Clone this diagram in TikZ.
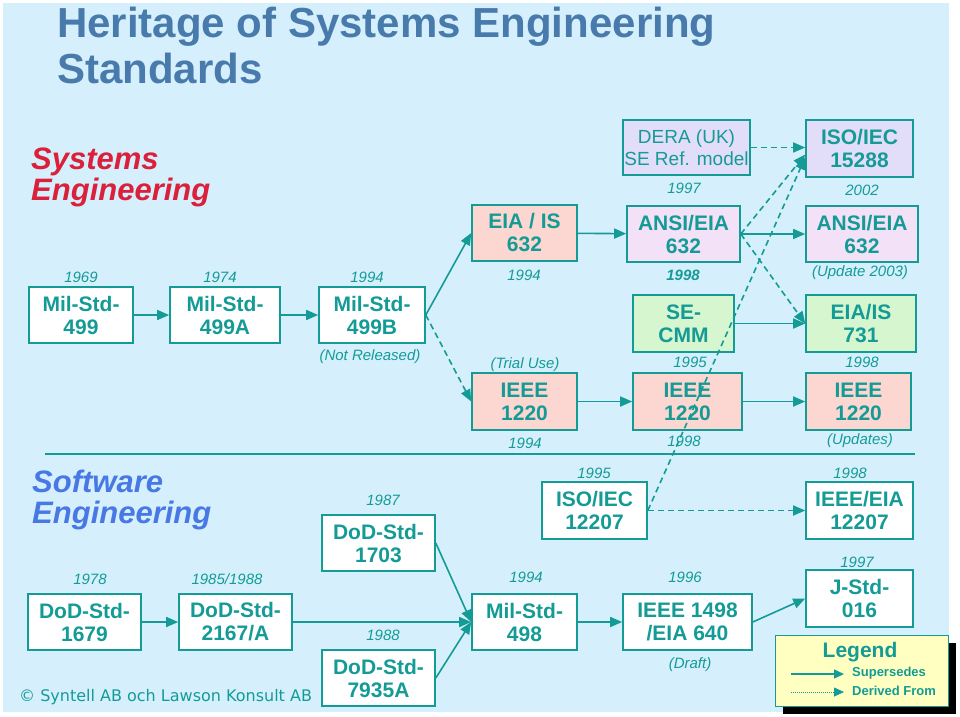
\documentclass[tikz,border=0pt]{standalone}
\usepackage{fontspec}
\setmainfont{Liberation Sans}
\setsansfont{Liberation Sans}
\newfontfamily\dejavu{DejaVu Sans}
\usetikzlibrary{arrows.meta,shadows}
\definecolor{tl}{RGB}{20,155,150}
\definecolor{bgc}{RGB}{213,240,252}
\definecolor{ttl}{RGB}{72,122,172}
\definecolor{sered}{RGB}{218,32,58}
\definecolor{swblue}{RGB}{72,120,228}
\definecolor{pinkf}{RGB}{252,214,208}
\definecolor{lavf}{RGB}{243,225,248}
\definecolor{bluelav}{RGB}{226,222,250}
\definecolor{greenf}{RGB}{214,246,208}
\definecolor{legf}{RGB}{255,255,194}
\begin{document}
\begin{tikzpicture}[x=1pt,y=-1pt,
 box/.style={draw=tl, line width=1.6pt, fill=white, text=tl, align=center, inner sep=0pt, minimum height=56, font=\fontsize{21}{23}\selectfont\bfseries},
 yr/.style={text=tl, inner sep=0pt, font=\fontsize{15}{17}\selectfont\itshape},
 byr/.style={yr, font=\fontsize{15}{17}\selectfont\bfseries\itshape},
 sup/.style={draw=tl, line width=1.6pt, -{Triangle[length=12pt,width=10pt]}},
 der/.style={sup, dash pattern=on 6pt off 4pt},
 heading/.style={anchor=base west, inner sep=0pt, font=\fontsize{31}{33}\selectfont\bfseries\itshape},
]
\useasboundingbox (0,0) rectangle (960,716);
\fill[white] (0,0) rectangle (960,716);
\fill[bgc] (3,3) rectangle (949,712);

% titles
\node[anchor=base west, inner sep=0pt, text=ttl, font=\fontsize{42}{46}\selectfont\bfseries] (t1) at (57,37) {Heritage of Systems Engineering};
\node[anchor=base west, inner sep=0pt, text=ttl, font=\fontsize{42}{46}\selectfont\bfseries] (t2) at (57,83) {Standards};
\node[heading, text=sered] (se1) at (31,169) {Systems};
\node[heading, text=sered] (se2) at (31,200) {Engineering};
\node[heading, text=swblue] (sw1) at (32,492) {Software};
\node[heading, text=swblue] (sw2) at (32,523) {Engineering};

% separator
\draw[tl, line width=2.5pt] (45,454) -- (915,454);

% systems engineering boxes
\node[box, minimum width=104] (m499) at (81,315) {Mil-Std-\\499};
\node[box, minimum width=110] (m499a) at (225,315) {Mil-Std-\\499A};
\node[box, minimum width=106] (m499b) at (372,315) {Mil-Std-\\499B};
\node[box, fill=pinkf, minimum width=105] (eia632) at (524.5,233) {EIA / IS\\632};
\node[box, fill=lavf, minimum width=113] (ansi632) at (683.5,234) {ANSI/EIA\\632};
\node[box, fill=bluelav, minimum width=127, minimum height=55, font=\fontsize{19}{22}\selectfont] (dera) at (686.5,147.5) {DERA (UK)\\SE Ref. model};
\node[box, fill=bluelav, minimum width=107, minimum height=57] (iso15288) at (859.5,148.5) {ISO/IEC\\15288};
\node[box, fill=lavf, minimum width=112] (ansi632b) at (862,234) {ANSI/EIA\\632};
\node[box, fill=greenf, minimum width=101, minimum height=57] (secmm) at (683.5,323.5) {SE-\\CMM};
\node[box, fill=greenf, minimum width=110, minimum height=57] (eia731) at (861,323.5) {EIA/IS\\731};
\node[box, fill=pinkf, minimum width=105, minimum height=57] (ieee1) at (524.5,401.5) {IEEE\\1220};
\node[box, fill=pinkf, minimum width=109, minimum height=57] (ieee2) at (687.5,401.5) {IEEE\\1220};
\node[box, fill=pinkf, minimum width=105, minimum height=57] (ieee3) at (858.5,401.5) {IEEE\\1220};

% software engineering boxes
\node[box, minimum width=113] (dod1679) at (84.5,622) {DoD-Std-\\1679};
\node[box, minimum width=113] (dod2167) at (235.5,622) {DoD-Std-\\2167/A};
\node[box, minimum width=113] (dod1703) at (378.5,543) {DoD-Std-\\1703};
\node[box, minimum width=113] (dod7935) at (378.5,678) {DoD-Std-\\7935A};
\node[box, minimum width=105] (mil498) at (524.5,622) {Mil-Std-\\498};
\node[box, minimum width=105, minimum height=57] (iso12207) at (594.5,510.5) {ISO/IEC\\12207};
\node[box, minimum width=129] (ieee1498) at (687.5,622) {IEEE 1498\\/EIA 640};
\node[box, minimum width=107, minimum height=57] (ieee12207) at (859.5,510.5) {IEEE/EIA\\12207};
\node[box, minimum width=107, minimum height=57] (jstd) at (859.5,598.5) {J-Std-\\016};

% years / notes
\node[yr] (y1) at (81,277) {1969};
\node[yr] (y2) at (220,277) {1974};
\node[yr] (y3) at (367,277) {1994};
\node[yr] (n1) at (370,357) {(Not Released)};
\node[yr] (y4) at (524,275) {1994};
\node[yr] (y5) at (684,188) {1997};
\node[byr] (y6) at (683,275) {1998};
\node[yr] (y7) at (862,190) {2002};
\node[yr] (n2) at (860,273) {(Update 2003)};
\node[yr] (n3) at (525,365) {(Trial Use)};
\node[yr] (y8) at (690,362) {1995};
\node[yr] (y9) at (862,362) {1998};
\node[yr] (y10) at (525,443) {1994};
\node[yr] (y11) at (684,441) {1998};
\node[yr] (n4) at (860,441) {(Updates)};
\node[yr] (y12) at (594,473) {1995};
\node[yr] (y13) at (850,473) {1998};
\node[yr] (y14) at (526,577) {1994};
\node[yr] (y15) at (685,577) {1996};
\node[yr] (n5) at (690,665) {(Draft)};
\node[yr] (y16) at (857,562) {1997};
\node[yr] (y17) at (383,500) {1987};
\node[yr] (y18) at (90,579) {1978};
\node[yr] (y19) at (227,579) {1985/1988};
\node[yr] (y20) at (383,635) {1988};

% copyright
\node[anchor=west, inner sep=0pt, text=tl, font=\fontsize{16}{18}\selectfont\dejavu] (copy) at (19,697) {© Syntell AB och Lawson Konsult AB};

% connectors: supersedes
\draw[sup] (m499) -- (m499a);
\draw[sup] (m499a) -- (m499b);
\draw[sup] (m499b.east) -- (eia632.west);
\draw[sup] (eia632) -- (ansi632);
\draw[sup] (ansi632) -- (ansi632b);
\draw[sup] (secmm) -- (eia731);
\draw[sup] (ieee1) -- (ieee2);
\draw[sup] (ieee2) -- (ieee3);
\draw[sup] (dod1679) -- (dod2167);
\draw[sup] (dod2167) -- (mil498);
\draw[sup] (dod1703.east) -- (mil498.west);
\draw[sup] (dod7935.east) -- (mil498.west);
\draw[sup] (mil498) -- (ieee1498);
\draw[sup] (ieee1498.east) -- (jstd.west);

% connectors: derived from
\draw[der] (m499b.east) -- (ieee1.west);
\draw[der] (dera.east) -- (dera.east -| iso15288.west);
\draw[der] (ansi632.east) -- ([yshift=-6pt]iso15288.west);
\draw[der] (ansi632.east) -- (eia731.west);
\draw[der] (iso12207.east) -- ([yshift=-9pt]iso15288.west);
\draw[der] (iso12207.east) -- (ieee12207.west);

% legend
\node[draw=tl, line width=1pt, fill=legf, minimum width=173, minimum height=71, inner sep=0pt,
      general shadow={fill=black, shadow xshift=8pt, shadow yshift=-8pt}] (legend) at (861.5,670.5) {};
\node[text=tl, inner sep=0pt, font=\fontsize{21}{23}\selectfont\bfseries] (legt) at (860,652) {Legend};
\coordinate (la1) at (791,674);
\coordinate (lb1) at (844,674);
\coordinate (la2) at (791,692);
\coordinate (lb2) at (844,692);
\draw[sup, line width=1.4pt, -{Triangle[length=10pt,width=9pt]}] (la1) -- (lb1);
\draw[draw=tl, line width=0.8pt, dash pattern=on 1pt off 1pt, -{Triangle[length=10pt,width=9pt]}] (la2) -- (lb2);
\node[anchor=west, inner sep=0pt, text=tl, font=\fontsize{13}{15}\selectfont\bfseries] (ls) at (852,673) {Supersedes};
\node[anchor=west, inner sep=0pt, text=tl, font=\fontsize{13}{15}\selectfont\bfseries] (ld) at (852,691) {Derived From};
\end{tikzpicture}
\end{document}
